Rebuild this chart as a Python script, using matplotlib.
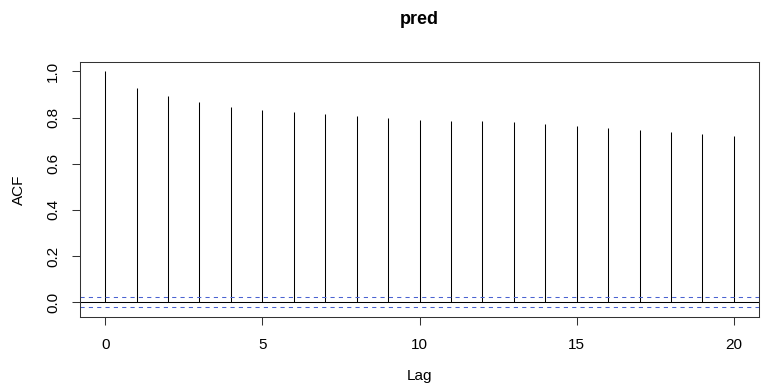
import matplotlib
matplotlib.use("Agg")
import matplotlib.pyplot as plt
import numpy as np

lags = list(range(21))
acf = [1.0, 0.928, 0.892, 0.866, 0.847, 0.834, 0.823, 0.814, 0.806, 0.797,
       0.790, 0.787, 0.784, 0.780, 0.772, 0.765, 0.757, 0.748, 0.737, 0.729, 0.719]
clim = 0.022
title = "pred"
xlabel = "Lag"
ylabel = "ACF"
xticks = [0, 5, 10, 15, 20]
yticks = [0.0, 0.2, 0.4, 0.6, 0.8, 1.0]

plt.rcParams['font.family'] = ['Liberation Sans', 'DejaVu Sans']
W, H = 761, 386
fig = plt.figure(figsize=(W/100, H/100), dpi=100)
ax = fig.add_axes([80/W, 1 - 316.7/H, (759-80)/W, (316.7-62)/H])

lw = 0.75
ax.vlines(lags, 0, acf, color='black', lw=lw)
ax.axhline(0, color='black', lw=lw)
ax.axhline(clim, color='#4a63d0', lw=lw, ls=(0, (4, 4)))
ax.axhline(-clim, color='#4a63d0', lw=lw, ls=(0, (4, 4)))

ymin = min(-clim, min(acf)); ymax = max(clim, max(acf))
yr = ymax - ymin
ax.set_ylim(ymin - 0.04*yr, ymax + 0.04*yr)
ax.set_xlim(-0.04*20, 20 + 0.04*20)

for s in ax.spines.values():
    s.set_color('#333333'); s.set_linewidth(lw)

fs = 11
ax.set_xticks(xticks)
ax.set_xticklabels([str(t) for t in xticks])
ax.set_yticks(yticks)
ax.set_yticklabels([f"{t:.1f}" for t in yticks], rotation=90, va='center')
ax.tick_params(direction='out', length=5.8, width=lw, color='#333333', labelsize=fs)
ax.tick_params(axis='x', pad=9.5)
ax.tick_params(axis='y', pad=8.5)

fig.text((80+759)/2/W, 1 - 376/H, xlabel, ha='center', va='center', fontsize=fs)
fig.text(19/W, 1 - (62+316.7)/2/H, ylabel, ha='center', va='center', fontsize=fs, rotation=90)
fig.text((80+759)/2/W, 1 - 19/H, title, ha='center', va='center', fontsize=13, fontweight='bold')

fig.savefig("out.png", dpi=100)
